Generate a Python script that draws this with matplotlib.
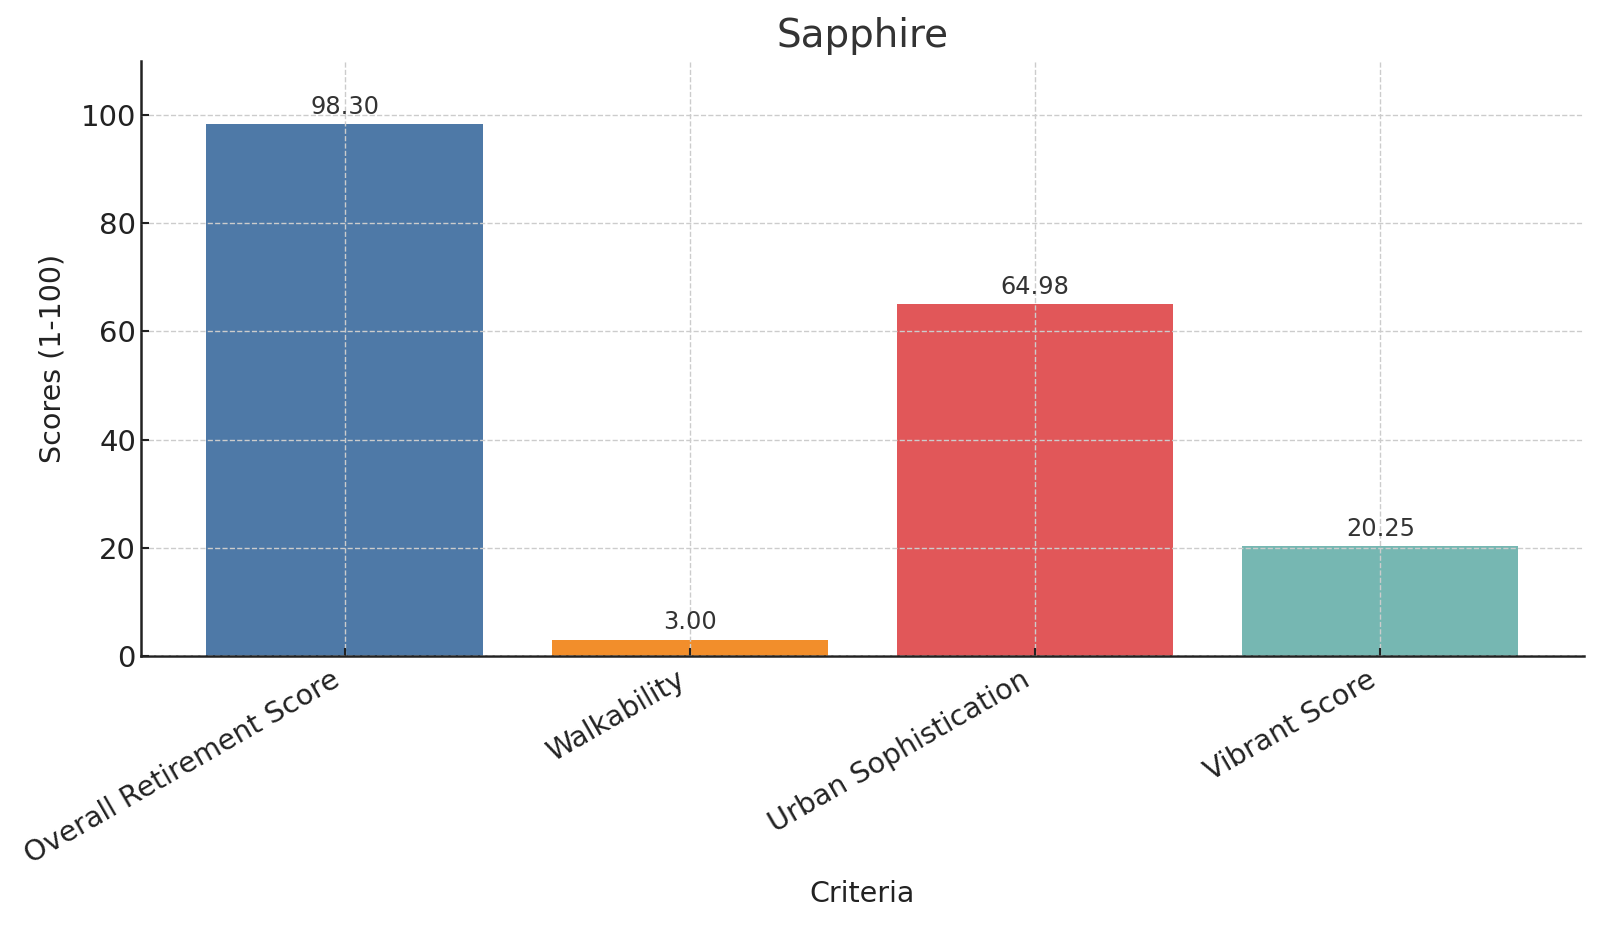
import matplotlib
matplotlib.use("Agg")
import matplotlib.pyplot as plt

categories = ["Overall Retirement Score", "Walkability", "Urban Sophistication", "Vibrant Score"]
values = [98.30, 3.00, 64.98, 20.25]
colors = ["#4e79a7", "#f28e2b", "#e15759", "#76b7b2"]

plt.rcParams['font.family'] = ['DejaVu Sans']
fig = plt.figure(figsize=(16, 9.25), dpi=100)
ax = fig.add_axes([0.088, 0.291, 0.902, 0.643])

bars = ax.bar(categories, values, color=colors, width=0.8)
ax.set_ylim(0, 110)
for b, v in zip(bars, values):
    ax.annotate(f"{v:.2f}", (b.get_x() + b.get_width() / 2, v), xytext=(0, 4),
                textcoords="offset points", ha="center", va="bottom",
                fontsize=17.3, color="#333333")

ax.set_title("Sapphire", fontsize=28, color="#333333", pad=10)
ax.set_xlabel("Criteria", fontsize=20.5, color="#222222", labelpad=8)
ax.set_ylabel("Scores (1-100)", fontsize=20.5, color="#222222", labelpad=10)
ax.grid(True, linestyle="--", color="#cccccc", linewidth=1)
ax.set_axisbelow(False)
for s in ["top", "right"]:
    ax.spines[s].set_visible(False)
for s in ["left", "bottom"]:
    ax.spines[s].set_linewidth(1.8)
    ax.spines[s].set_color("#222222")
ax.tick_params(direction="in", length=6, width=1.5, colors="#222222")
ax.tick_params(axis="y", labelsize=21)
ax.tick_params(axis="x", labelsize=20.5, pad=7)
plt.setp(ax.get_xticklabels(), rotation=30, ha="right")

fig.savefig("out.png", dpi=100)
